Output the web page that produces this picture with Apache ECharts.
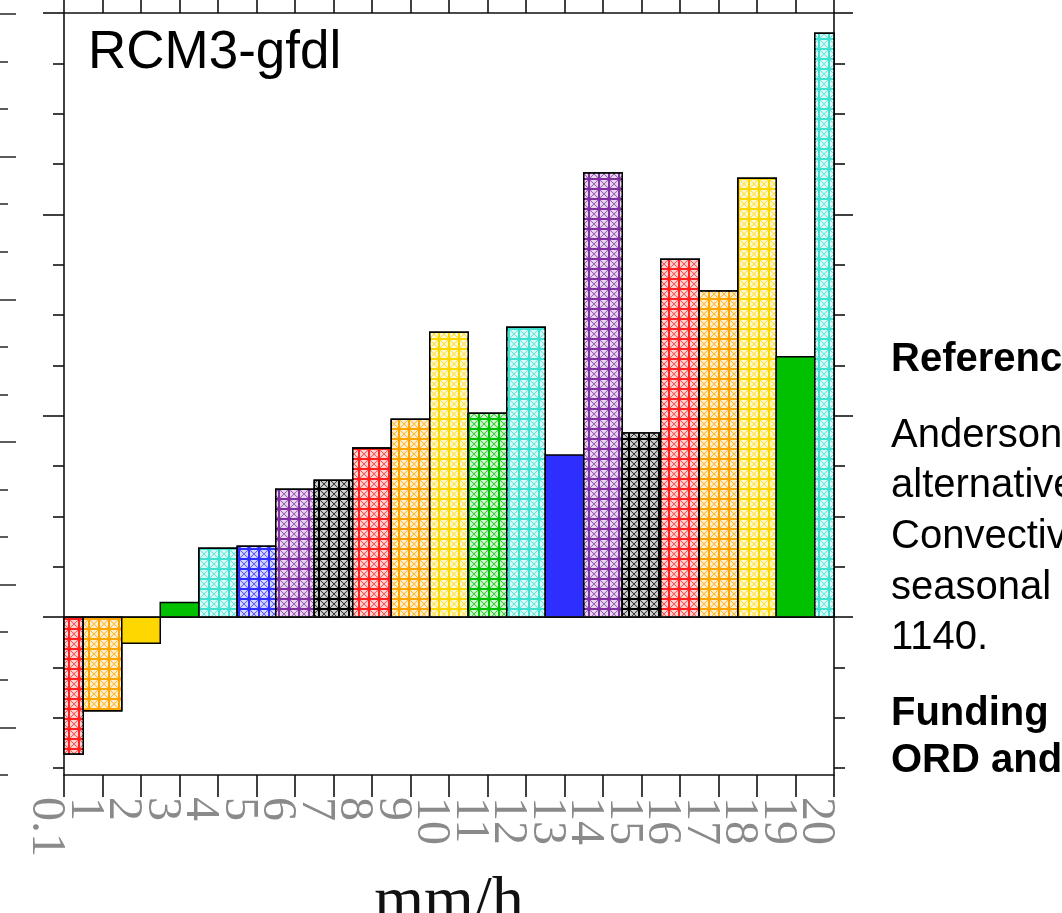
<!DOCTYPE html>
<html>
<head>
<meta charset="utf-8">
<script src="https://cdn.jsdelivr.net/npm/echarts@6/dist/echarts.min.js"></script>
<style>
html,body{margin:0;padding:0;background:#fff;overflow:hidden}
#c{width:1062px;height:913px}
</style>
</head>
<body>
<div id="c"></div>
<script>
// ---- data ----
const categories = ['0.1','1','2','3','4','5','6','7','8','9','10','11','12','13','14','15','16','17','18','19','20'];
const values = [-2.72,-1.86,-0.52,0.29,1.37,1.41,2.54,2.72,3.36,3.93,5.66,4.05,5.76,3.22,8.82,3.66,7.11,6.48,8.72,5.17,11.6];
const solidBars = [2,3,13,19];               // bars drawn without hatching
const yMinorTicks = [-3,-2,-1,1,2,3,5,6,7,9,10,11];
const yMajorTicks = [0,4,8,12];
const yMin = -3.135, yMax = 12;
// neighbouring panel's axis (only its ticks are visible)
const nbMinorTicks = [1,2,4,5,7,8,10,11,13,14,16];
const nbMajorTicks = [0,3,6,9,12,15];
const nbMin = -0.021, nbMax = 16.004;
const xName = 'mm/h';
const panelTitle = 'RCM3-gfdl';
const sideText = [
  {t:'References', bold:true},
  {t:'Anderson', bold:false},
  {t:'alternative', bold:false},
  {t:'Convective', bold:false},
  {t:'seasonal', bold:false},
  {t:'1140.', bold:false},
  {t:'Funding', bold:true},
  {t:'ORD and', bold:true}
];
const sideTextY = [360, 436, 486, 537, 588, 638, 714, 761];

// ---- styles ----
const palette = ['#FF2020','#FFA500','#FFD700','#00C000','#40E0D0','#2E2EFF','#8030A0','#000000'];
const AX = '#111';
const decalObj = {
  symbol: 'path://M0.5 0L9.5 0L5 4.5Z M10 0.5L10 9.5L5.5 5Z M0.5 10L9.5 10L5 5.5Z M0 0.5L0 9.5L4.5 5Z',
  symbolSize: 1,
  symbolKeepAspect: false,
  color: 'rgba(255,255,255,0.82)',
  dashArrayX: [[8, 2]],
  dashArrayY: [8, 2]
};

function yAx(pos, ticks, len, showLine) {
  return {
    type: 'value', position: pos, min: yMin, max: yMax, gridIndex: 0,
    axisLine: {show: showLine, lineStyle: {color: AX, width: 1.6}},
    axisTick: {show: true, customValues: ticks, length: len, inside: false, lineStyle: {color: AX, width: 1.6}},
    axisLabel: {show: false},
    splitLine: {show: false}
  };
}
function nbAx(ticks, len) {
  return {
    type: 'value', position: 'left', offset: 64, min: nbMin, max: nbMax, inverse: true,
    axisLine: {show: false},
    axisTick: {show: true, customValues: ticks, length: len, inside: true, lineStyle: {color: '#333', width: 1.6}},
    axisLabel: {show: false}, splitLine: {show: false}
  };
}

const chart = echarts.init(document.getElementById('c'), null, {renderer: 'canvas'});

const graphic = [
  {type: 'text', x: 88, y: 53, style: {text: panelTitle, font: '53px "Liberation Sans", Arial, sans-serif', fill: '#000', align: 'left', verticalAlign: 'middle'}}
];
sideText.forEach((s, i) => {
  graphic.push({type: 'text', x: 891, y: sideTextY[i], style: {
    text: s.t, font: (s.bold ? 'bold ' : '') + '40px "Liberation Sans", Arial, sans-serif',
    fill: '#000', align: 'left', verticalAlign: 'middle'}});
});

chart.setOption({
  animation: false,
  backgroundColor: '#fff',
  grid: {left: 64, top: 13, width: 770, height: 762, containLabel: false, outerBoundsMode: 'none'},
  xAxis: [
    {
      type: 'category', data: categories, boundaryGap: false, position: 'bottom',
      axisLine: {show: true, onZero: false, lineStyle: {color: AX, width: 1.6}},
      axisTick: {show: true, interval: 0, length: 22, lineStyle: {color: AX, width: 1.6}},
      axisLabel: {
        show: true, interval: 0, rotate: -90, margin: 22, verticalAlign: 'top', lineHeight: 36,
        fontFamily: '"Liberation Serif", "DejaVu Serif", serif', fontSize: 48, color: '#8a8a8a'
      },
      splitLine: {show: false},
      name: xName, nameLocation: 'middle', nameGap: 96,
      nameTextStyle: {fontFamily: '"Liberation Serif", "DejaVu Serif", serif', fontSize: 64, color: '#111'}
    },
    {
      type: 'category', data: categories, boundaryGap: false, position: 'top',
      axisLine: {show: true, onZero: false, lineStyle: {color: AX, width: 1.6}},
      axisTick: {show: true, interval: 0, length: 22, lineStyle: {color: AX, width: 1.6}},
      axisLabel: {show: false}, splitLine: {show: false}
    }
  ],
  yAxis: [
    yAx('left', yMinorTicks, 11, true),
    yAx('left', yMajorTicks, 21, false),
    yAx('right', yMinorTicks, 11, true),
    yAx('right', yMajorTicks, 19, false),
    nbAx(nbMinorTicks, 8),
    nbAx(nbMajorTicks, 16)
  ],
  graphic: graphic,
  series: [{
    type: 'custom',
    xAxisIndex: 0, yAxisIndex: 0,
    data: values.map((v, i) => [i, v]),
    renderItem: function (params, api) {
      const i = api.value(0), v = api.value(1);
      const p0 = api.coord([i, 0]);
      const p1 = api.coord([i, v]);
      const w = api.size([1, 0])[0];
      const cs = params.coordSys;
      const rect = echarts.graphic.clipRectByRect(
        {x: p0[0] - w / 2, y: Math.min(p0[1], p1[1]), width: w, height: Math.abs(p1[1] - p0[1])},
        {x: cs.x, y: cs.y, width: cs.width, height: cs.height}
      );
      if (!rect) return null;
      const style = {fill: palette[i % palette.length], stroke: '#000', lineWidth: 1.5};
      if (solidBars.indexOf(i) < 0) style.decal = decalObj;
      return {type: 'rect', shape: rect, style: style};
    },
    markLine: {
      silent: true, symbol: 'none', animation: false,
      label: {show: false},
      lineStyle: {color: AX, width: 1.6, type: 'solid'},
      data: [{yAxis: 0}]
    },
    z: 2
  }]
});
</script>
</body>
</html>
